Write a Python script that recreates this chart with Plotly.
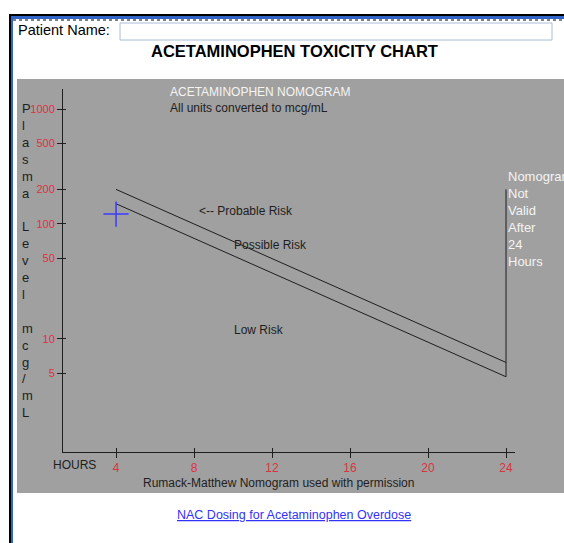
import math
import plotly.graph_objects as go

W, H = 564, 543

# data
hours_ticks = [4, 8, 12, 16, 20, 24]
level_ticks = [5, 10, 50, 100, 200, 500, 1000]
level_labels = ["5", "10", "50", "100", "200", "500", "1000"]

line_hours = [4, 24]
probable_risk_line = [200, 6.25]
treatment_hours = [4, 24, 24]
treatment_line = [150, 4.69, 200]

patient_hours = [4]
patient_level = [122]

RED = "#dc3340"
INK = "#1e1e1e"
PANEL = "#a0a0a0"
FONT = "Liberation Sans, Arial, sans-serif"


def px(x):
    return x / W


def py(y):
    return 1 - y / H


fig = go.Figure()

fig.add_trace(go.Scatter(
    x=line_hours, y=probable_risk_line, mode="lines",
    line=dict(color=INK, width=1), hoverinfo="skip", showlegend=False,
))
fig.add_trace(go.Scatter(
    x=treatment_hours, y=treatment_line, mode="lines",
    line=dict(color=INK, width=1), hoverinfo="skip", showlegend=False,
))
fig.add_trace(go.Scatter(
    x=patient_hours, y=patient_level, mode="markers",
    marker=dict(symbol="cross-thin", size=18, line=dict(color="#3a3aff", width=1.5)),
    showlegend=False,
))
# carrier for the inner tick marks
fig.add_trace(go.Scatter(x=[None], y=[None], xaxis="x2", yaxis="y2",
                         showlegend=False, hoverinfo="skip"))

x_dom = [px(63), px(515)]
y_dom = [py(452), py(89)]
x_rng = [1.28, 24.46]
y_rng = [0.017, 3.174]

fig.update_layout(
    width=W, height=H,
    margin=dict(l=0, r=0, t=0, b=0),
    paper_bgcolor="white",
    plot_bgcolor=PANEL,
    font=dict(family=FONT, size=12, color=INK),
    showlegend=False,
    xaxis=dict(
        domain=x_dom, range=x_rng, anchor="y",
        tickmode="array", tickvals=hours_ticks,
        ticks="outside", ticklen=5, tickcolor=INK, tickwidth=1,
        showline=True, linecolor=INK, linewidth=1,
        showgrid=False, zeroline=False,
        tickfont=dict(color=RED, size=12, family=FONT),
    ),
    yaxis=dict(
        domain=y_dom, range=y_rng, type="log", anchor="x",
        tickmode="array", tickvals=level_ticks, ticktext=level_labels,
        ticks="outside", ticklen=5, tickcolor=INK, tickwidth=1,
        showline=True, linecolor=INK, linewidth=1,
        showgrid=False, zeroline=False,
        tickfont=dict(color=RED, size=11, family=FONT),
    ),
    xaxis2=dict(
        overlaying="x", matches="x", anchor="y2",
        tickmode="array", tickvals=hours_ticks,
        ticks="inside", ticklen=4, tickcolor=INK,
        showticklabels=False, showline=False, showgrid=False, zeroline=False,
    ),
    yaxis2=dict(
        overlaying="y", matches="y", anchor="x2", type="log",
        tickmode="array", tickvals=level_ticks,
        ticks="inside", ticklen=3, tickcolor=INK,
        showticklabels=False, showline=False, showgrid=False, zeroline=False,
    ),
)

# ── page decoration ───────────────────────────────────────────────────────────
shapes = [
    dict(type="rect", xref="paper", yref="paper", layer="below",
         x0=px(17), x1=1.02, y0=py(493), y1=py(79),
         fillcolor=PANEL, line=dict(width=0)),
    dict(type="rect", xref="paper", yref="paper",
         x0=px(9), x1=1.02, y0=py(16), y1=py(14),
         fillcolor="#000000", line=dict(width=0)),
    dict(type="rect", xref="paper", yref="paper",
         x0=px(11), x1=1.02, y0=py(19), y1=py(16),
         fillcolor="#2f66c8", line=dict(width=0)),
    dict(type="line", xref="paper", yref="paper",
         x0=px(13), x1=1.02, y0=py(20), y1=py(20),
         line=dict(color="#000000", width=1, dash="dot")),
    dict(type="rect", xref="paper", yref="paper",
         x0=px(9), x1=px(11), y0=-0.02, y1=py(14),
         fillcolor="#000000", line=dict(width=0)),
    dict(type="rect", xref="paper", yref="paper",
         x0=px(11), x1=px(13), y0=-0.02, y1=py(16),
         fillcolor="#2f66c8", line=dict(width=0)),
    dict(type="rect", xref="paper", yref="paper",
         x0=px(120), x1=px(552), y0=py(40), y1=py(23),
         fillcolor="white", line=dict(color="#a8bed6", width=1)),
]
fig.update_layout(shapes=shapes)


def note(text, x, y, xref="paper", yref="paper", size=12, color=INK,
         xanchor="left", yanchor="middle", align="left"):
    fig.add_annotation(
        text=text, x=x, y=y, xref=xref, yref=yref, showarrow=False,
        xanchor=xanchor, yanchor=yanchor, align=align,
        font=dict(family=FONT, size=size, color=color),
    )


note("Patient Name:", px(16), py(30), size=14.5, color="#000000")
note("<b>ACETAMINOPHEN TOXICITY CHART</b>", px(294), py(51), size=16.5,
     color="#000000", xanchor="center")

note("ACETAMINOPHEN NOMOGRAM", px(168), py(92), color="#f4f4f4")
note("All units converted to mcg/mL", px(168), py(108))

axis_letters = "<br>".join(c if c != " " else "&nbsp;" for c in "Plasma Level mcg/mL")
note(axis_letters, px(20), py(99), size=13, yanchor="top")

note("Nomogram<br>Not<br>Valid<br>After<br>24<br>Hours",
     px(506), py(167), size=13, color="#f4f4f4", yanchor="top")

note("&lt;-- Probable Risk", 8.15, math.log10(130), xref="x", yref="y")
note("Possible Risk", 9.95, math.log10(66), xref="x", yref="y")
note("Low Risk", 9.95, math.log10(12), xref="x", yref="y")

note("HOURS", px(51), py(465))
note("Rumack-Matthew Nomogram used with permission", px(278), py(483),
     xanchor="center")

note("<u>NAC Dosing for Acetaminophen Overdose</u>", px(294), py(515),
     size=12.5, color="#3232ff", xanchor="center")

# drop the default body margin so the figure fills the window
fig.write_html("out.html",
               config={"displayModeBar": False},
               post_script="document.body.style.margin='0';document.body.style.overflow='hidden';")
